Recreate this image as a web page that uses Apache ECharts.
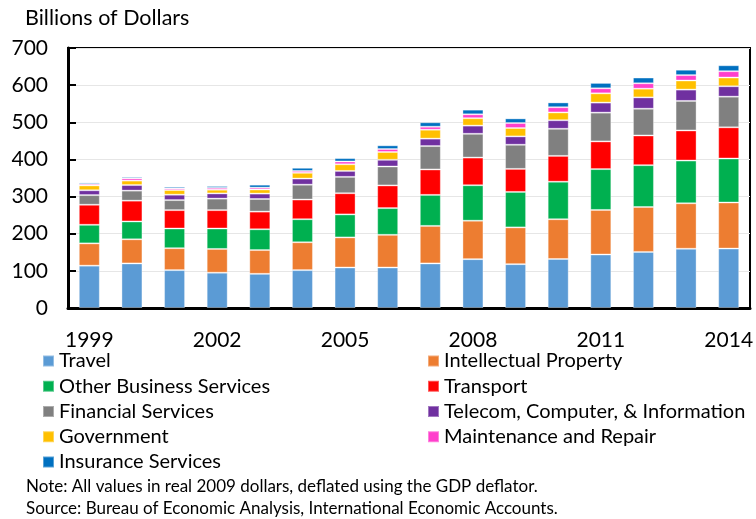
<!DOCTYPE html>
<html>
<head>
<meta charset="utf-8">
<script src="https://cdn.jsdelivr.net/npm/echarts@6/dist/echarts.min.js"></script>
<style>
  html, body { margin: 0; padding: 0; background: #fff; }
  #chart { width: 756px; height: 519px; }
</style>
</head>
<body>
<div id="chart"></div>
<script>
const years = ["1999", "2000", "2001", "2002", "2003", "2004", "2005", "2006", "2007", "2008", "2009", "2010", "2011", "2012", "2013", "2014"];
const yTicks = [0, 100, 200, 300, 400, 500, 600, 700];

const travel = [114, 120, 102, 95, 92, 102, 109, 109, 120, 131.5, 118, 132, 144, 151, 159.5, 160];
const intellectualProperty = [60, 65, 59, 64, 64, 75, 81, 88, 101, 103.5, 99, 107, 120, 121, 122.5, 124];
const otherBusiness = [50, 48, 53, 55, 56, 62, 62, 72, 83.5, 95.5, 95.5, 101, 110, 112.5, 115, 118.5];
const transport = [54, 56, 49.5, 49.5, 47.5, 53, 57, 61, 68.5, 74.5, 62, 69.5, 74.5, 80, 81, 84];
const financial = [26, 27, 27, 31, 34, 40, 44, 51, 63, 64, 65, 73, 77.5, 72, 79.5, 82.5];
const telecom = [13, 15, 14.5, 14, 14.5, 16.5, 16, 18, 20, 22, 22.5, 23, 27, 30.5, 30.5, 28];
const government = [13, 12, 12.5, 10, 11, 15.5, 18, 21, 24, 20, 22.5, 21, 25, 23.5, 24.5, 23.5];
const maintenance = [4, 6, 4.5, 5, 5, 5, 7.5, 8, 8, 10.5, 13.5, 14, 13.5, 14.5, 14.5, 17];
const insurance = [4, 4, 4.5, 5, 8, 8.5, 9, 10, 12, 12.5, 12.5, 13, 14.5, 15.5, 14.5, 16];

const seriesList = [
  { name: "Travel", data: travel, color: "#5B9BD5" },
  { name: "Intellectual Property", data: intellectualProperty, color: "#ED7D31" },
  { name: "Other Business Services", data: otherBusiness, color: "#00B050" },
  { name: "Transport", data: transport, color: "#FF0000" },
  { name: "Financial Services", data: financial, color: "#808080" },
  { name: "Telecom, Computer, & Information", data: telecom, color: "#7030A0" },
  { name: "Government", data: government, color: "#FFC000" },
  { name: "Maintenance and Repair", data: maintenance, color: "#FF3FCC" },
  { name: "Insurance Services", data: insurance, color: "#0070C0" }
];

const font = "Lato";

const legendBase = {
  orient: "vertical",
  icon: "rect",
  padding: 0,
  itemWidth: 11,
  itemHeight: 11,
  itemGap: 5.25,
  top: 351,
  textStyle: { fontFamily: font, fontSize: 20, lineHeight: 20, color: "#000", padding: [0, 0, 0, 0] }
};

const chart = echarts.init(document.getElementById("chart"));

chart.setOption({
  animation: false,
  backgroundColor: "#fff",
  title: [
    {
      text: "Billions of Dollars",
      left: 25,
      top: 7,
      padding: 0,
      textStyle: { fontFamily: font, fontSize: 21.5, fontWeight: "normal", color: "#000" }
    },
    {
      text: "Note: All values in real 2009 dollars, deflated using the GDP deflator.",
      left: 26,
      top: 478,
      padding: 0,
      textStyle: { fontFamily: font, fontSize: 17, fontWeight: "normal", color: "#000" }
    },
    {
      text: "Source: Bureau of Economic Analysis, International Economic Accounts.",
      left: 26,
      top: 500,
      padding: 0,
      textStyle: { fontFamily: font, fontSize: 17, fontWeight: "normal", color: "#000" }
    }
  ],
  legend: [
    Object.assign({}, legendBase, {
      left: 42,
      data: ["Travel", "Other Business Services", "Financial Services", "Government", "Insurance Services"]
    }),
    Object.assign({}, legendBase, {
      left: 427,
      data: ["Intellectual Property", "Transport", "Telecom, Computer, & Information", "Maintenance and Repair"]
    })
  ],
  grid: {
    left: 68,
    right: 4,
    top: 48,
    bottom: 211,
    show: true,
    borderColor: "#000",
    borderWidth: 2
  },
  xAxis: {
    type: "category",
    data: years,
    axisLine: { lineStyle: { color: "#000", width: 3 } },
    axisTick: { show: false },
    axisLabel: {
      interval: 2,
      margin: 22,
      fontFamily: font,
      fontSize: 21,
      color: "#000"
    }
  },
  yAxis: {
    type: "value",
    min: yTicks[0],
    max: yTicks[yTicks.length - 1],
    interval: 100,
    axisLine: { show: true, lineStyle: { color: "#000", width: 3 } },
    axisTick: { show: true, inside: true, length: 8, lineStyle: { color: "#000", width: 2 } },
    splitLine: { lineStyle: { color: "#e6e6e6", width: 1 } },
    axisLabel: {
      margin: 20,
      fontFamily: font,
      fontSize: 21,
      color: "#000"
    }
  },
  series: seriesList.map(function (s) {
    return {
      name: s.name,
      type: "bar",
      stack: "total",
      barWidth: 21,
      data: s.data,
      itemStyle: {
        color: s.color,
        borderColor: "rgba(255,255,255,0.35)",
        borderWidth: 1
      }
    };
  })
});
</script>
</body>
</html>
